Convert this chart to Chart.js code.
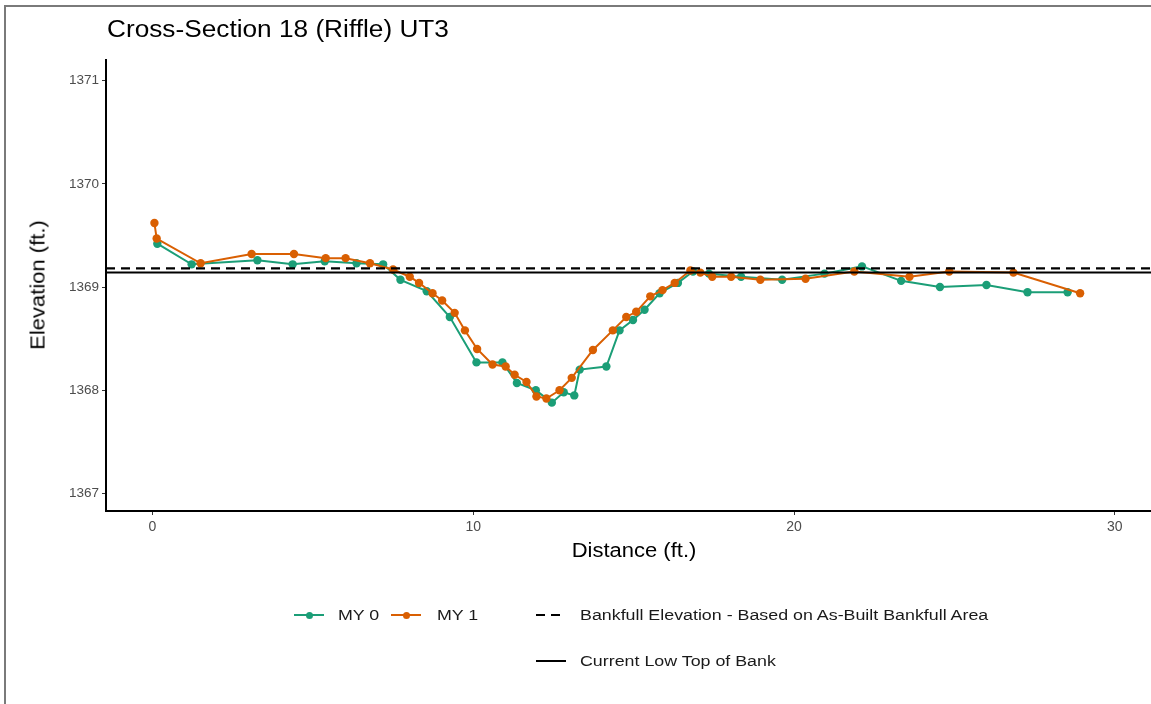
<!DOCTYPE html>
<html>
<head>
<meta charset="utf-8">
<script src="https://cdn.jsdelivr.net/npm/chart.js@4/dist/chart.umd.min.js"></script>
<style>
body { margin: 0; background: #fff; font-family: "Liberation Sans", Arial, sans-serif; }
#wrap { position: relative; width: 1151px; height: 704px; overflow: hidden; background: #fff; }
#frame { position: absolute; left: 4px; top: 5px; width: 1170px; height: 720px; border: 2px solid #7a7a7a; box-sizing: border-box; }
#chart { position: absolute; left: 0; top: 0; }
.txt { position: absolute; white-space: nowrap; color: #000; }
.leg { position: absolute; white-space: nowrap; color: #1a1a1a; font-size: 15.5px; line-height: 18px; transform: scaleX(1.15); transform-origin: left center; }
.sym { position: absolute; height: 2px; }
.dot { position: absolute; width: 7px; height: 7px; border-radius: 50%; }
</style>
</head>
<body>
<div id="wrap">
  <div id="frame"></div>
  <canvas id="chart" width="1151" height="704"></canvas>
  <div class="txt" style="left:107px; top:16px; font-size:23px; transform:scaleX(1.14); transform-origin:left center;">Cross-Section 18 (Riffle) UT3</div>
  <div class="txt" style="left:634px; top:539px; font-size:20px; transform:translateX(-50%) scaleX(1.1);">Distance (ft.)</div>
  <div class="txt" style="left:38px; top:285px; font-size:20px; transform:translate(-50%,-50%) rotate(-90deg) scaleX(1.1);">Elevation (ft.)</div>
  <div id="legend"></div>
</div>
<script>
// cross-section survey points (distance ft, elevation ft)
const my0Dist = [0.15, 1.22, 3.27, 4.37, 5.37, 6.36, 7.19, 7.73, 8.55, 9.27, 10.1, 10.91, 11.36, 11.95, 12.45, 12.82, 13.15, 13.32, 14.15, 14.56, 14.98, 15.34, 15.81, 16.38, 16.85, 17.35, 18.35, 19.63, 20.95, 22.12, 23.34, 24.55, 26.0, 27.28, 28.53];
const my0Elev = [1369.42, 1369.22, 1369.26, 1369.22, 1369.25, 1369.23, 1369.22, 1369.07, 1368.96, 1368.71, 1368.27, 1368.27, 1368.07, 1368.0, 1367.88, 1367.98, 1367.95, 1368.2, 1368.23, 1368.58, 1368.68, 1368.78, 1368.94, 1369.04, 1369.15, 1369.13, 1369.1, 1369.07, 1369.13, 1369.2, 1369.06, 1369.0, 1369.02, 1368.95, 1368.95];

const my1Dist = [0.06, 0.13, 1.5, 3.09, 4.41, 5.4, 6.02, 6.78, 7.5, 8.02, 8.31, 8.73, 9.03, 9.42, 9.74, 10.12, 10.6, 11.01, 11.29, 11.66, 11.97, 12.28, 12.69, 13.07, 13.73, 14.35, 14.77, 15.08, 15.52, 15.9, 16.28, 16.77, 17.08, 17.45, 18.04, 18.95, 20.36, 21.88, 23.6, 24.84, 26.84, 28.92];
const my1Elev = [1369.62, 1369.47, 1369.23, 1369.32, 1369.32, 1369.28, 1369.28, 1369.23, 1369.17, 1369.1, 1369.04, 1368.94, 1368.87, 1368.75, 1368.58, 1368.4, 1368.25, 1368.23, 1368.15, 1368.08, 1367.94, 1367.92, 1368.0, 1368.12, 1368.39, 1368.58, 1368.71, 1368.76, 1368.91, 1368.97, 1369.04, 1369.16, 1369.14, 1369.1, 1369.1, 1369.07, 1369.08, 1369.15, 1369.1, 1369.15, 1369.14, 1368.94];

const bankfullElev = 1369.18;
const lowTopBankElev = 1369.14;

const xTicks = [0, 10, 20, 30];
const yTicks = [1367, 1368, 1369, 1370, 1371];
const xMin = -1.45, xMax = 31.13;
const yMin = 1366.83, yMax = 1371.2;

const green = '#1b9e77';
const orange = '#d95f02';

function pts(xs, ys) {
    return xs.map((x, i) => ({ x: x, y: ys[i] }));
}

const ctx = document.querySelector('#chart').getContext('2d');
const chart = new Chart(ctx, {
    type: 'scatter',
    data: {
        datasets: [{
            label: 'Bankfull Elevation - Based on As-Built Bankfull Area',
            data: [{ x: xMin, y: bankfullElev }, { x: xMax, y: bankfullElev }],
            showLine: true,
            borderColor: '#000',
            borderWidth: 2.2,
            borderDash: [9, 6],
            pointRadius: 0,
            order: 0
        }, {
            label: 'Current Low Top of Bank',
            data: [{ x: xMin, y: lowTopBankElev }, { x: xMax, y: lowTopBankElev }],
            showLine: true,
            borderColor: '#000',
            borderWidth: 2,
            pointRadius: 0,
            order: 0
        }, {
            label: 'MY 1',
            data: pts(my1Dist, my1Elev),
            showLine: true,
            borderColor: orange,
            backgroundColor: orange,
            borderWidth: 2,
            pointRadius: 4.2,
            pointBorderWidth: 0,
            order: 1
        }, {
            label: 'MY 0',
            data: pts(my0Dist, my0Elev),
            showLine: true,
            borderColor: green,
            backgroundColor: green,
            borderWidth: 2,
            pointRadius: 4.2,
            pointBorderWidth: 0,
            order: 2
        }]
    },
    options: {
        responsive: false,
        animation: false,
        devicePixelRatio: 1,
        layout: {
            autoPadding: false,
            padding: { top: 60, left: 0, right: 0, bottom: 0 }
        },
        scales: {
            x: {
                type: 'linear',
                min: xMin,
                max: xMax,
                afterBuildTicks: (s) => { s.ticks = xTicks.map(v => ({ value: v })); },
                afterFit: (s) => { s.height = 193; },
                border: { display: true, color: '#000', width: 2 },
                grid: { drawOnChartArea: false, drawTicks: true, tickLength: 4, color: '#333' },
                ticks: {
                    color: '#4d4d4d',
                    padding: 4,
                    maxRotation: 0,
                    callback: (v) => String(v),
                    font: { family: '"Liberation Sans", Arial, sans-serif', size: 14 }
                }
            },
            y: {
                type: 'linear',
                min: yMin,
                max: yMax,
                afterBuildTicks: (s) => { s.ticks = yTicks.map(v => ({ value: v })); },
                afterFit: (s) => { s.width = 106; },
                border: { display: true, color: '#000', width: 2 },
                grid: { drawOnChartArea: false, drawTicks: true, tickLength: 4, color: '#333' },
                ticks: {
                    color: '#4d4d4d',
                    padding: 3,
                    callback: (v) => String(v),
                    font: { family: '"Liberation Sans", Arial, sans-serif', size: 13.5 }
                }
            }
        },
        plugins: {
            legend: { display: false },
            tooltip: { enabled: false }
        }
    }
});

// legend built in html, two rows like the original
const legendItems = [
    { label: 'MY 0', color: green, kind: 'point', x: 294, y: 615, tx: 338 },
    { label: 'MY 1', color: orange, kind: 'point', x: 391, y: 615, tx: 437 },
    { label: chart.data.datasets[0].label, color: '#000', kind: 'dash', x: 536, y: 615, tx: 580 },
    { label: chart.data.datasets[1].label, color: '#000', kind: 'solid', x: 536, y: 661, tx: 580 }
];
const legendEl = document.getElementById('legend');
legendItems.forEach(item => {
    if (item.kind === 'dash') {
        legendEl.insertAdjacentHTML('beforeend',
            `<div class="sym" style="left:${item.x}px;top:${item.y - 1}px;width:9px;background:${item.color}"></div>` +
            `<div class="sym" style="left:${item.x + 15}px;top:${item.y - 1}px;width:9px;background:${item.color}"></div>`);
    } else {
        legendEl.insertAdjacentHTML('beforeend',
            `<div class="sym" style="left:${item.x}px;top:${item.y - 1}px;width:30px;background:${item.color}"></div>`);
    }
    if (item.kind === 'point') {
        legendEl.insertAdjacentHTML('beforeend',
            `<div class="dot" style="left:${item.x + 11.5}px;top:${item.y - 3.5}px;background:${item.color}"></div>`);
    }
    legendEl.insertAdjacentHTML('beforeend',
        `<div class="leg" style="left:${item.tx}px;top:${item.y - 9}px">${item.label}</div>`);
});
</script>
</body>
</html>
